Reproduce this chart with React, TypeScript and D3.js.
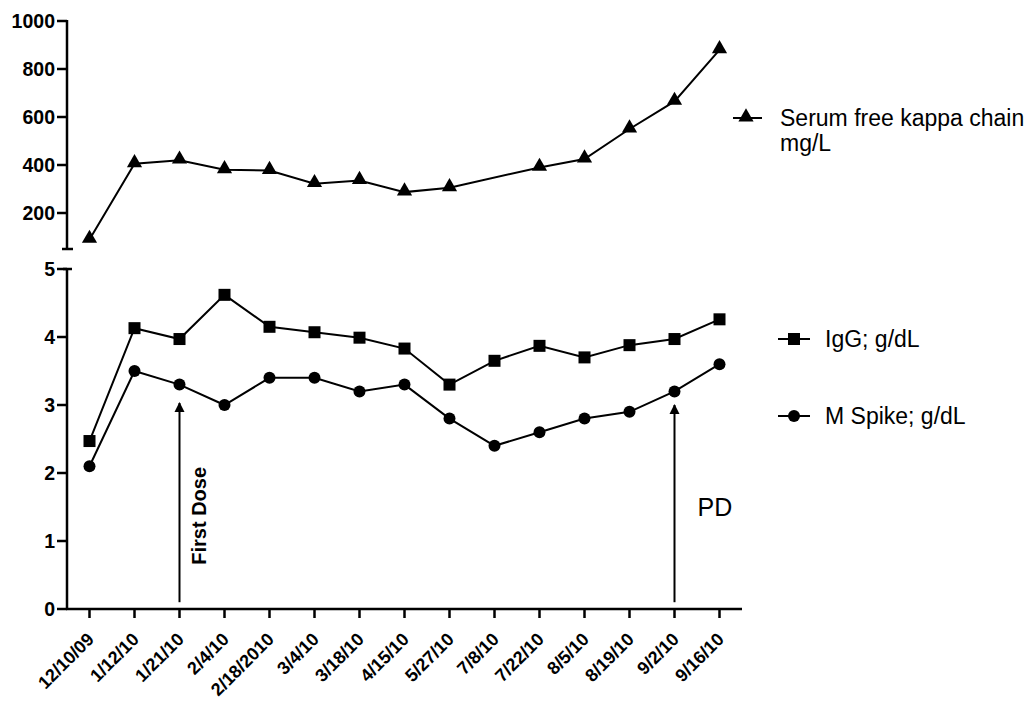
import React from "react";
import * as d3 from "d3";

const dates = [
  "12/10/09", "1/12/10", "1/21/10", "2/4/10", "2/18/2010", "3/4/10", "3/18/10",
  "4/15/10", "5/27/10", "7/8/10", "7/22/10", "8/5/10", "8/19/10", "9/2/10", "9/16/10",
];
// null = not measured on that date
const kappa: (number | null)[] = [90, 405, 420, 380, 377, 322, 335, 287, 305, null, 390, 425, 550, 665, 880];
const igg = [2.47, 4.13, 3.97, 4.62, 4.15, 4.07, 3.99, 3.83, 3.3, 3.65, 3.87, 3.7, 3.88, 3.97, 4.26];
const mSpike = [2.1, 3.5, 3.3, 3.0, 3.4, 3.4, 3.2, 3.3, 2.8, 2.4, 2.6, 2.8, 2.9, 3.2, 3.6];
const kappaTicks = [200, 400, 600, 800, 1000];
const gTicks = [0, 1, 2, 3, 4, 5];
const arrows = [
  { date: "1/21/10", from: 0.1, to: 3.03, label: "First Dose" },
  { date: "9/2/10", from: 0.1, to: 3.0, label: "PD" },
];

const FONT = "'Liberation Sans', Arial, sans-serif";

const App = () => {
  const x = d3.scalePoint<string>().domain(dates).range([67, 742]).padding(0.5);
  const yTop = d3.scaleLinear().domain([50, 1000]).range([249, 21]);
  const yBot = d3.scaleLinear().domain([0, 5]).range([609, 269]);
  const axisX = 67;

  // skip missing measurement, line joins neighbours
  const kappaPts = kappa
    .map((v, i) => ({ v, d: dates[i] }))
    .filter((p) => p.v != null) as { v: number; d: string }[];
  const topLine = d3
    .line<{ v: number; d: string }>()
    .x((p) => x(p.d)!)
    .y((p) => yTop(p.v))(kappaPts)!;

  const lineBot = (vals: number[]) =>
    d3.line<number>().x((_, i) => x(dates[i])!).y((d) => yBot(d))(vals)!;

  const tri = d3.symbol(d3.symbolTriangle, 100)()!;

  return (
    <svg width={1031} height={703} style={{ position: "absolute", left: 0, top: 0, background: "#fff" }}>
      <defs>
        <marker id="ah" viewBox="0 0 10 10" refX="9" refY="5" markerWidth="5" markerHeight="6" orient="auto">
          <path d="M0,0 L10,5 L0,10 z" fill="#000" />
        </marker>
      </defs>

      {/* top axis (kappa) */}
      <line x1={axisX} x2={axisX} y1={yTop(1000) - 1} y2={yTop(50)} stroke="#000" strokeWidth={2.5} />
      <line x1={axisX - 5} x2={axisX + 6} y1={yTop(50)} y2={yTop(50)} stroke="#000" strokeWidth={2.5} />
      {kappaTicks.map((t) => (
        <g key={t} transform={`translate(${axisX},${yTop(t)})`}>
          <line x1={-10} x2={0} stroke="#000" strokeWidth={2.5} />
          <text x={-12} dy="0.36em" textAnchor="end" fontFamily={FONT} fontWeight="bold" fontSize={19.5}>
            {t}
          </text>
        </g>
      ))}

      {/* bottom axis (g/dL) */}
      <line x1={axisX} x2={axisX} y1={yBot(5)} y2={yBot(0)} stroke="#000" strokeWidth={2.5} />
      <line x1={axisX - 4} x2={axisX + 5} y1={yBot(5)} y2={yBot(5)} stroke="#000" strokeWidth={2.5} />
      {gTicks.map((t) => (
        <g key={t} transform={`translate(${axisX},${yBot(t)})`}>
          <line x1={-10} x2={0} stroke="#000" strokeWidth={2.5} />
          <text x={-12} dy="0.36em" textAnchor="end" fontFamily={FONT} fontWeight="bold" fontSize={19.5}>
            {t}
          </text>
        </g>
      ))}

      {/* x axis */}
      <line x1={axisX - 1} x2={742} y1={yBot(0)} y2={yBot(0)} stroke="#000" strokeWidth={2.5} />
      {dates.map((d) => (
        <g key={d} transform={`translate(${x(d)},${yBot(0)})`}>
          <line y1={0} y2={9} stroke="#000" strokeWidth={2.5} />
          <text
            transform="translate(1,27) rotate(-45)"
            textAnchor="end"
            dy="0.35em"
            fontFamily={FONT}
            fontWeight="bold"
            fontSize={18}
          >
            {d}
          </text>
        </g>
      ))}

      {/* series */}
      <path d={topLine} fill="none" stroke="#000" strokeWidth={2} />
      {kappaPts.map((p) => (
        <path key={p.d} d={tri} transform={`translate(${x(p.d)},${yTop(p.v) - 1})`} fill="#000" />
      ))}

      <path d={lineBot(igg)} fill="none" stroke="#000" strokeWidth={2} />
      {igg.map((v, i) => (
        <rect key={i} x={x(dates[i])! - 6} y={yBot(v) - 6} width={12} height={12} fill="#000" />
      ))}

      <path d={lineBot(mSpike)} fill="none" stroke="#000" strokeWidth={2} />
      {mSpike.map((v, i) => (
        <circle key={i} cx={x(dates[i])!} cy={yBot(v)} r={6} fill="#000" />
      ))}

      {/* annotations */}
      {arrows.map((a) => (
        <line
          key={a.date}
          x1={x(a.date)}
          x2={x(a.date)}
          y1={yBot(a.from)}
          y2={yBot(a.to)}
          stroke="#000"
          strokeWidth={2}
          markerEnd="url(#ah)"
        />
      ))}
      <text
        transform={`translate(${x(arrows[0].date)! + 26},${yBot(1.37)}) rotate(-90)`}
        textAnchor="middle"
        fontFamily={FONT}
        fontWeight="bold"
        fontSize={20}
      >
        {arrows[0].label}
      </text>
      <text x={x(arrows[1].date)! + 23} y={yBot(1.37)} fontFamily={FONT} fontSize={25}>
        {arrows[1].label}
      </text>

      {/* legend */}
      <g fontFamily={FONT} fontSize={23}>
        <g transform="translate(0,118)">
          <line x1={733} x2={762} stroke="#000" strokeWidth={2} />
          <path d={tri} transform="translate(746,-1)" fill="#000" />
          <text x={780} dy="0.35em">Serum free kappa chain</text>
          <text x={780} dy="1.45em">mg/L</text>
        </g>
        <g transform="translate(0,339)">
          <line x1={778} x2={810} stroke="#000" strokeWidth={2} />
          <rect x={788} y={-6} width={12} height={12} fill="#000" />
          <text x={825} dy="0.35em">IgG; g/dL</text>
        </g>
        <g transform="translate(0,416)">
          <line x1={778} x2={810} stroke="#000" strokeWidth={2} />
          <circle cx={794} cy={0} r={6} fill="#000" />
          <text x={825} dy="0.35em">M Spike; g/dL</text>
        </g>
      </g>
    </svg>
  );
};

export default App;
